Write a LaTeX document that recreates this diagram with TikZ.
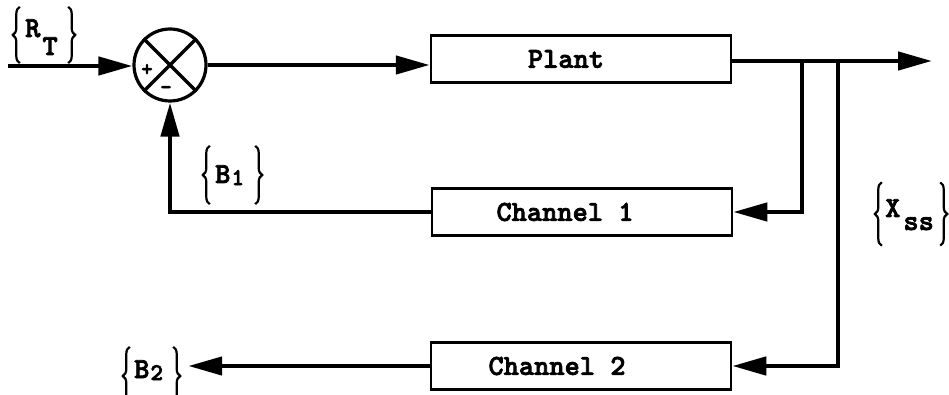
\documentclass[tikz,border=0pt]{standalone}
\usepackage{fontspec}
\newfontfamily\twfont{lmmonolt10-bold.otf}[FakeBold=2.5]
\usetikzlibrary{arrows.meta,decorations.pathreplacing}
\newcommand\subfs{\fontsize{24}{26}\selectfont}
\tikzset{
  conn/.style={line width=4.5pt, -{Triangle[length=34pt,width=18pt]}},
  blk/.style={draw, line width=2.5pt, minimum width=300pt, minimum height=47pt, inner sep=0pt},
  txt/.style={font=\fontsize{29}{32}\selectfont\twfont, inner sep=0pt},
  lab/.style={font=\fontsize{29}{30}\selectfont\twfont, inner sep=0pt, anchor=base west},
  sgn/.style={font=\fontsize{22}{22}\selectfont\twfont, inner sep=0pt},
  frame/.style={inner sep=0pt},
  brc/.style={line width=2.2pt, decorate, decoration={brace, amplitude=7pt}},
}
\begin{document}
\begin{tikzpicture}[x=1pt,y=-1pt]
\useasboundingbox (0,0) rectangle (949,395);
% junction
\node[circle, draw, line width=3.2pt, minimum size=72pt, inner sep=0pt] (sum) at (170,65) {};
\draw[line width=3.2pt] (sum.45) -- (sum.225) (sum.135) -- (sum.-45);
\node[sgn] (plus) at (147,70) {+};
\node[sgn] (minus) at (166,90) {-};
% blocks
\node[blk] (plant) at (581,59) {};
\node[txt] (plantT) at (566,59) {Plant};
\node[blk] (ch1) at (582,212) {};
\node[txt] (ch1T) at (565,212) {Channel 1};
\node[blk] (ch2) at (581,366) {};
\node[txt] (ch2T) at (557,366) {Channel 2};
% labels: frames with braces
\node[frame, minimum width=48pt, minimum height=56pt] (rt) at (44,35) {};
\node[frame, minimum width=45pt, minimum height=58pt] (b1) at (232.5,175) {};
\node[frame, minimum width=43pt, minimum height=58pt] (b2) at (151.5,376) {};
\node[frame, minimum width=58pt, minimum height=63pt] (xss) at (911,214) {};
\foreach \n in {rt,b1,b2,xss}{
  \draw[brc] (\n.south west) -- (\n.north west);
  \draw[brc] (\n.north east) -- (\n.south east);
}
\node[lab] (rtT) at (25,37) {R\kern2pt\raisebox{-18pt}{T}};
\node[lab] (b1T) at (215,183) {B\kern1pt\raisebox{-2pt}{\subfs 1}};
\node[lab] (b2T) at (134,378) {B\kern1pt\raisebox{-2pt}{\subfs 2}};
\node[lab] (xssT) at (885,217) {X\kern3pt\raisebox{-13pt}{ss}};
% coordinates
\coordinate (in) at (8,66);
\coordinate (out) at (932,61);
\coordinate (br1) at (802,61);
\coordinate (br2) at (838,61);
% connectors
\draw[conn] (in) -- (in -| sum.west);
\draw[conn] (sum.east) -- (sum.east -| plant.west);
\draw[conn] (plant.east |- out) -- (out);
\draw[conn] (br1) |- (ch1.east);
\draw[conn] (br2) |- (ch2.east);
\draw[conn] (ch1.west) -| (sum.south);
\draw[conn] (ch2.west) -- ([xshift=15pt]b2.east |- ch2.west);
\end{tikzpicture}
\end{document}
